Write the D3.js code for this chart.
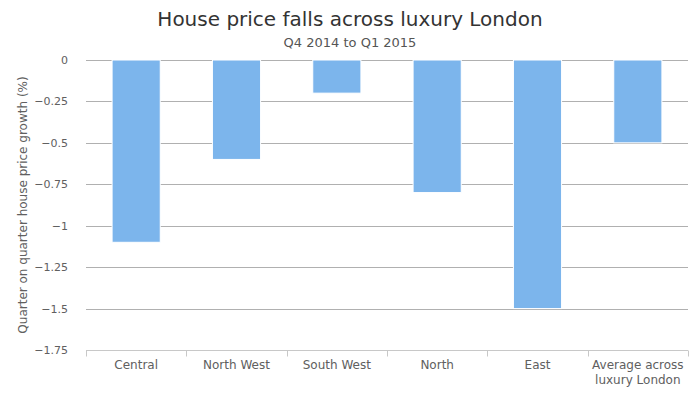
<!DOCTYPE html>
<html lang="en">
<head>
<meta charset="UTF-8">
<title>House price falls across luxury London</title>
<script src="https://cdn.jsdelivr.net/npm/d3@7"></script>
<style>
  body { margin: 0; background: #fff; }
  text { font-family: "DejaVu Sans", sans-serif; }
</style>
</head>
<body>
<div id="chart"></div>
<script>
// data
var categories = ['Central', 'North West', 'South West', 'North', 'East', 'Average across|luxury London'];
var growth = [-1.1, -0.6, -0.2, -0.8, -1.5, -0.5];
var yTicks = [0, -0.25, -0.5, -0.75, -1, -1.25, -1.5, -1.75];

var W = 700, H = 394;
var m = {top: 60, right: 12, bottom: 44, left: 86};

var svg = d3.select('#chart').append('svg')
    .attr('width', W).attr('height', H);

var x = d3.scaleBand().domain(categories)
    .range([m.left, W - m.right]).paddingInner(0.52).paddingOuter(0.26);
var y = d3.scaleLinear().domain([-1.75, 0]).range([H - m.bottom, m.top]);

// titles
svg.append('text').attr('x', W / 2).attr('y', 26).attr('text-anchor', 'middle')
    .attr('font-size', 20).attr('fill', '#333').text('House price falls across luxury London');
svg.append('text').attr('x', W / 2).attr('y', 47).attr('text-anchor', 'middle')
    .attr('font-size', 13).attr('fill', '#555').text('Q4 2014 to Q1 2015');

// gridlines (none at the bottom, the axis line sits there)
svg.append('g').selectAll('line').data(yTicks.filter(function (d) { return d > -1.75; }))
    .join('line')
    .attr('x1', m.left).attr('x2', W - m.right)
    .attr('y1', function (d) { return Math.round(y(d)) + 0.5; })
    .attr('y2', function (d) { return Math.round(y(d)) + 0.5; })
    .attr('stroke', '#b0b0b0');

// y tick labels
svg.append('g').selectAll('text').data(yTicks).join('text')
    .attr('x', 68).attr('y', function (d) { return y(d) + 4; })
    .attr('text-anchor', 'end').attr('font-size', 11).attr('fill', '#606060')
    .text(function (d) { return d === 0 ? '0' : '\u2212' + String(Math.abs(d)); });

// y axis title
svg.append('text')
    .attr('transform', 'translate(27,' + ((m.top + H - m.bottom) / 2) + ') rotate(-90)')
    .attr('text-anchor', 'middle').attr('font-size', 12).attr('fill', '#606060')
    .text('Quarter on quarter house price growth (%)');

// bars
svg.append('g').selectAll('rect').data(growth).join('rect')
    .attr('x', function (d, i) { return x(categories[i]); })
    .attr('width', x.bandwidth())
    .attr('y', y(0))
    .attr('height', function (d) { return y(d) - y(0); })
    .attr('fill', '#7cb5ec').attr('stroke', '#fff').attr('stroke-width', 1);

// x axis line and ticks at category boundaries
var base = Math.round(y(-1.75)) + 0.5;
var step = (W - m.right - m.left) / categories.length;
svg.append('line').attr('x1', m.left).attr('x2', W - m.right)
    .attr('y1', base).attr('y2', base).attr('stroke', '#c8c8c8');
svg.append('g').selectAll('line').data(d3.range(categories.length + 1)).join('line')
    .attr('x1', function (i) { return Math.round(m.left + i * step) + 0.5; })
    .attr('x2', function (i) { return Math.round(m.left + i * step) + 0.5; })
    .attr('y1', base).attr('y2', base + 6).attr('stroke', '#c8c8c8');

// category labels
var lab = svg.append('g').selectAll('text').data(categories).join('text')
    .attr('text-anchor', 'middle').attr('font-size', 12).attr('fill', '#606060')
    .attr('x', function (d) { return x(d) + x.bandwidth() / 2; })
    .attr('y', base + 18);
lab.selectAll('tspan').data(function (d) { return d.split('|'); }).join('tspan')
    .attr('x', function () { var p = d3.select(this.parentNode).datum(); return x(p) + x.bandwidth() / 2; })
    .attr('dy', function (d, i) { return i ? 15 : 0; })
    .text(function (d) { return d; });
</script>
</body>
</html>
